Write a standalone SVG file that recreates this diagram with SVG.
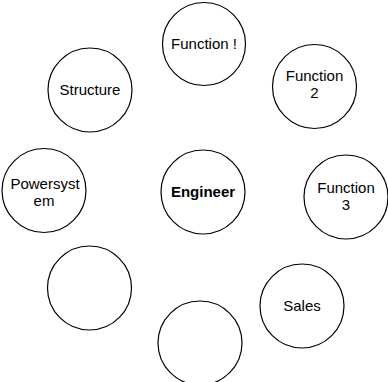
<svg xmlns="http://www.w3.org/2000/svg" width="388" height="382" viewBox="0 0 388 382">
<style>
.n{fill:#fff;stroke:#000;stroke-width:1.2}
.t{font-family:"Liberation Sans",Arial,sans-serif;font-size:15px;text-anchor:middle;fill:#000}
.b{font-weight:bold}
</style>
<rect width="388" height="382" fill="#fff"/>
<g id="connectors"></g>
<g id="function1"><circle class="n" cx="204" cy="44" r="41.5"/><text class="t" x="204" y="49">Function !</text></g>
<g id="function2"><circle class="n" cx="314.5" cy="86.5" r="42"/><text class="t" x="314.5" y="81">Function</text><text class="t" x="314.5" y="98">2</text></g>
<g id="structure"><circle class="n" cx="90" cy="90" r="42"/><text class="t" x="90" y="95">Structure</text></g>
<g id="powersystem"><circle class="n" cx="44" cy="190.5" r="42"/><text class="t" x="45" y="189">Powersyst</text><text class="t" x="44" y="206">em</text></g>
<g id="engineer"><circle class="n" cx="203" cy="192" r="42"/><text class="t b" x="203" y="197">Engineer</text></g>
<g id="function3"><circle class="n" cx="346" cy="197" r="42"/><text class="t" x="346" y="193">Function</text><text class="t" x="346" y="210">3</text></g>
<g id="blank1"><circle class="n" cx="89.5" cy="288" r="42"/></g>
<g id="sales"><circle class="n" cx="302" cy="306" r="42"/><text class="t" x="302" y="311">Sales</text></g>
<g id="blank2"><circle class="n" cx="200" cy="343" r="42"/></g>
</svg>
